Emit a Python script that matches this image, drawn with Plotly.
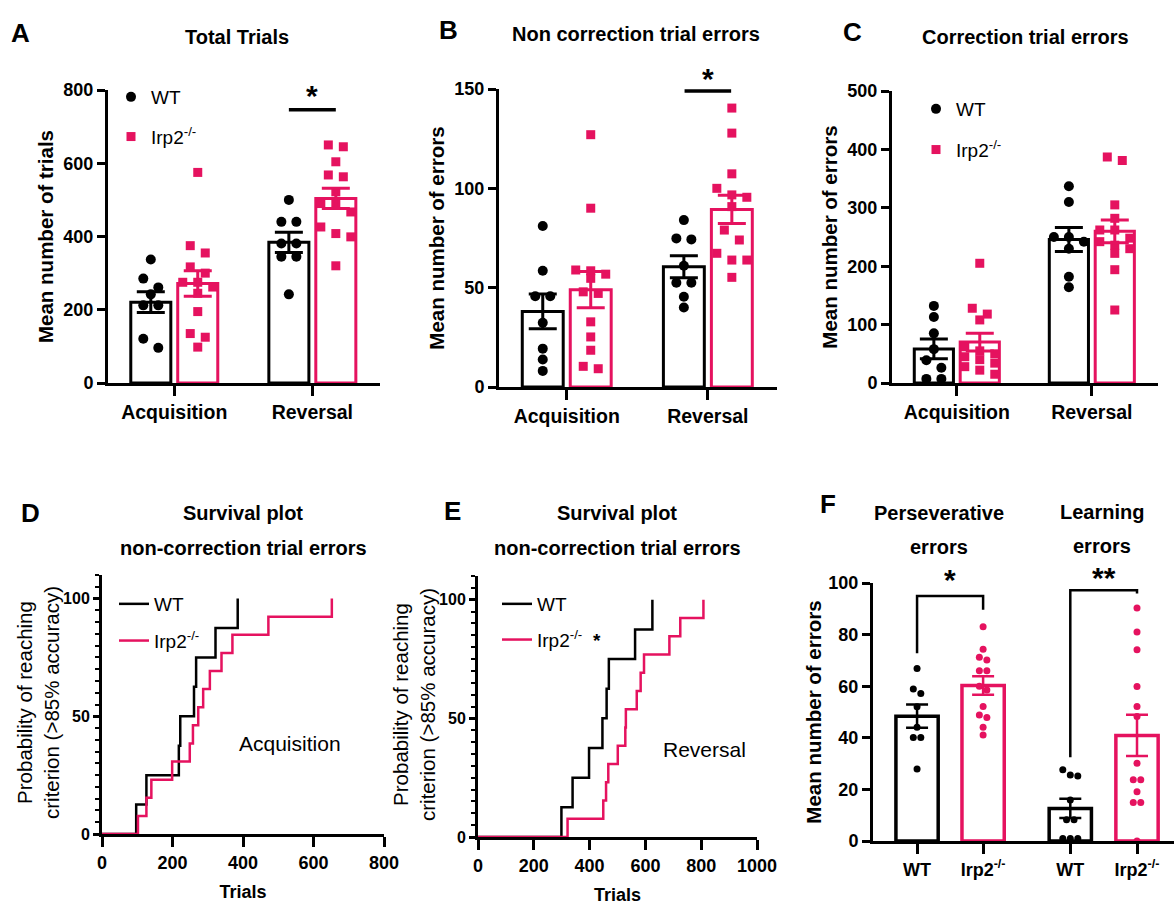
import numpy as np
import plotly.graph_objects as go

# ---------------- data ----------------
groups = ["Acquisition", "Reversal"]
genotypes = ["WT", "Irp2<sup>-/-</sup>"]

# Panel A - total trials
a_wt_acq = [337, 285, 261, 242, 212, 212, 121, 96]
a_ko_acq = [575, 375, 355, 317, 300, 275, 275, 262, 245, 195, 135, 125, 98]
a_wt_rev = [500, 440, 440, 381, 381, 345, 345, 242]
a_ko_rev = [650, 645, 604, 568, 563, 522, 490, 490, 467, 426, 408, 399, 320]

# Panel B - non correction trial errors
b_wt_acq = [81, 58.5, 45.7, 45.7, 32.3, 19.3, 13.8, 8.1]
b_ko_acq = [127, 90, 58.9, 58.5, 56.8, 54.7, 47.9, 47.1, 32.8, 25.2, 18.5, 10.4, 9.2]
b_wt_rev = [84, 74.8, 74.3, 61, 52.5, 52.5, 45.4, 40]
b_ko_rev = [140.4, 127.8, 107.3, 100, 96.7, 95.5, 90.8, 79, 74, 67.3, 63.9, 63.9, 55.2]

# Panel C - correction trial errors
c_wt_acq = [132, 113, 85, 58, 39, 26, 7, 7]
c_ko_acq = [205, 128, 118, 108, 62, 55, 50, 45, 40, 34, 28, 22, 15]
c_wt_rev = [337, 310, 250, 250, 242, 230, 182, 164]
c_ko_rev = [387, 381, 305, 282, 262, 262, 248, 242, 236, 230, 222, 194, 125]

# Panel D / E - trials to criterion (survival)
d_wt = [97, 126, 218, 222, 261, 267, 322, 385]
d_ko = [102, 126, 140, 199, 249, 258, 273, 287, 306, 339, 370, 472, 652]
e_wt = [299, 339, 398, 446, 461, 469, 563, 625]
e_ko = [321, 449, 459, 467, 501, 528, 530, 569, 583, 595, 686, 725, 808]

# Panel F - perseverative / learning errors
f_categories = ["WT", "Irp2<sup>-/-</sup>", "WT", "Irp2<sup>-/-</sup>"]
f_wt_pers = [66.9, 58.9, 57.2, 52, 44.1, 40.1, 40.1, 27.9]
f_ko_pers = [83, 74.3, 71.2, 70.2, 66, 66, 60, 58.5, 52.1, 48.8, 47.9, 44.1, 41.1]
f_wt_learn = [27.6, 25.6, 25.2, 15.9, 8.2, 8.2, 1, 1, 1]
f_ko_learn = [90.3, 81, 74.1, 59.9, 52.1, 48.3, 30.1, 23.7, 23.7, 19.1, 14.9, 14.9, 0]

# ---------------- style ----------------
W, H = 1174, 905
PINK = "#E5125F"
BLACK = "#000000"
SANS = "Liberation Sans, Arial, sans-serif"
TICKFONT = dict(family=SANS, size=18, color="black", weight="bold")
CATFONT = dict(family=SANS, size=19.5, color="black", weight="bold")
TITLEFONT = dict(family=SANS, size=20, color="black", weight="bold")
AXTITLEFONT = dict(family=SANS, size=20.5, color="black", weight="bold")
LEGFONT = dict(family=SANS, size=19, color="black")


def dxp(a, b):
    return [a / W, b / W]


def dyp(top, bottom):
    return [1 - bottom / H, 1 - top / H]


def swarm(vals, ypx, spacing, thresh, maxk):
    v = np.asarray(vals, float)
    order = np.argsort(-v, kind="stable")
    offs = np.zeros(len(v))
    i = 0
    while i < len(order):
        row = [order[i]]
        j = i + 1
        while j < len(order) and len(row) < maxk and (v[order[i]] - v[order[j]]) * ypx < thresh:
            row.append(order[j])
            j += 1
        k = len(row)
        for m, idx in enumerate(row):
            offs[idx] = (m - (k - 1) / 2) * spacing
        i = j
    return offs


def sem(v):
    v = np.asarray(v, float)
    return float(np.std(v, ddof=1) / np.sqrt(len(v)))


fig = go.Figure()

# panel geometry (pixels)
geo = {
    "A": dict(x=(108, 380), y=(90, 383), yr=(0, 800), xr=(-0.48, 1.49)),
    "B": dict(x=(499, 777), y=(89, 387), yr=(0, 150), xr=(-0.48, 1.49)),
    "C": dict(x=(892, 1158), y=(91, 383), yr=(0, 500), xr=(-0.48, 1.49)),
    "D": dict(x=(102, 384), y=(575, 834), yr=(0, 110), xr=(0, 800)),
    "E": dict(x=(478, 757), y=(576, 837), yr=(0, 110), xr=(0, 1000)),
    "F": dict(x=(873, 1174), y=(583, 841), yr=(0, 100), xr=(-0.667, 3.89)),
}
axid = {"A": "", "B": "2", "C": "3", "D": "4", "E": "5", "F": "6"}


def scales(p):
    g = geo[p]
    xpx = (g["x"][1] - g["x"][0]) / (g["xr"][1] - g["xr"][0])
    ypx = (g["y"][1] - g["y"][0]) / (g["yr"][1] - g["yr"][0])
    return xpx, ypx


def bar_panel(p, sets, legend=None):
    n = axid[p]
    xa, ya = "x" + n, "y" + n
    xpx, ypx = scales(p)
    off, width = 0.17, 0.29
    for gi_g, (color, symbol, size, name) in enumerate(
        [(BLACK, "circle", 10, genotypes[0]), (PINK, "square", 9, genotypes[1])]
    ):
        xs = [gi + (-off if gi_g == 0 else off) for gi in range(len(groups))]
        vals = [sets[gi][gi_g] for gi in range(len(groups))]
        means = [float(np.mean(v)) for v in vals]
        errs = [sem(v) for v in vals]
        fig.add_trace(go.Bar(x=xs, y=means, width=width, xaxis=xa, yaxis=ya,
                             marker=dict(color="white", line=dict(color=color, width=3)),
                             showlegend=False, hoverinfo="skip"))
        px_all, py_all = [], []
        for x0, v in zip(xs, vals):
            o = swarm(v, ypx, 15, 10, 3)
            px_all += list(x0 + o / xpx)
            py_all += list(v)
        fig.add_trace(go.Scatter(x=px_all, y=py_all, mode="markers", xaxis=xa, yaxis=ya,
                                 marker=dict(symbol=symbol, size=size, color=color),
                                 name=name, legendgroup=p + name,
                                 showlegend=legend is not None,
                                 legend=legend if legend else "legend"))
        fig.add_trace(go.Scatter(x=xs, y=means, mode="markers", xaxis=xa, yaxis=ya,
                                 marker=dict(size=1, color="rgba(0,0,0,0)"),
                                 error_y=dict(type="data", array=errs, color=color,
                                              thickness=3, width=14),
                                 showlegend=False, hoverinfo="skip"))


bar_panel("A", [(a_wt_acq, a_ko_acq), (a_wt_rev, a_ko_rev)], legend="legend")
bar_panel("B", [(b_wt_acq, b_ko_acq), (b_wt_rev, b_ko_rev)])
bar_panel("C", [(c_wt_acq, c_ko_acq), (c_wt_rev, c_ko_rev)], legend="legend2")


def km(p, times_wt, times_ko, legend):
    n = axid[p]
    for times, color, name in [(times_wt, BLACK, genotypes[0]),
                               (times_ko, PINK, genotypes[1] + ("  <b>*</b>" if p == "E" else ""))]:
        t = np.sort(np.asarray(times, float))
        yv = 100 * np.arange(1, len(t) + 1) / len(t)
        fig.add_trace(go.Scatter(x=np.r_[0, t], y=np.r_[0, yv], mode="lines",
                                 line=dict(color=color, width=2.5, shape="hv"),
                                 xaxis="x" + n, yaxis="y" + n, name=name,
                                 legendgroup=p + name, legend=legend))


km("D", d_wt, d_ko, "legend3")
km("E", e_wt, e_ko, "legend4")

# Panel F
fpos = [0, 1, 2.32, 3.33]
f_sets = [f_wt_pers, f_ko_pers, f_wt_learn, f_ko_learn]
f_colors = [BLACK, PINK, BLACK, PINK]
xpxF, ypxF = scales("F")
f_means = [float(np.mean(v)) for v in f_sets]
f_errs = [sem(v) for v in f_sets]
fig.add_trace(go.Bar(x=fpos, y=f_means, width=0.64, xaxis="x6", yaxis="y6",
                     marker=dict(color="white", line=dict(color=f_colors, width=3.5)),
                     showlegend=False, hoverinfo="skip"))
for x0, v, c in zip(fpos, f_sets, f_colors):
    o = swarm(v, ypxF, 7.5, 6.5, 3)
    fig.add_trace(go.Scatter(x=list(x0 + o / xpxF), y=v, mode="markers", xaxis="x6", yaxis="y6",
                             marker=dict(symbol="circle", size=7, color=c), showlegend=False))
for x0, m, e, c in zip(fpos, f_means, f_errs, f_colors):
    fig.add_trace(go.Scatter(x=[x0], y=[m], mode="markers", xaxis="x6", yaxis="y6",
                             marker=dict(size=1, color="rgba(0,0,0,0)"),
                             error_y=dict(type="data", array=[e], color=c, thickness=2.5, width=11),
                             showlegend=False, hoverinfo="skip"))

# ---------------- axes ----------------
def base_axis(**kw):
    d = dict(showline=True, linewidth=3, linecolor="black", ticks="outside", ticklen=8,
             tickwidth=3, tickcolor="black", showgrid=False, zeroline=False,
             tickfont=TICKFONT, fixedrange=True, automargin=False)
    d.update(kw)
    return d


layout_axes = {}
for p in "ABC":
    n = axid[p]
    g = geo[p]
    title = "Mean number of trials" if p == "A" else "Mean number of errors"
    dtick = {"A": 200, "B": 50, "C": 100}[p]
    layout_axes["xaxis" + n] = base_axis(domain=dxp(*g["x"]), range=list(g["xr"]), anchor="y" + n,
                                         tickvals=[0, 1], ticktext=groups, tickfont=CATFONT, ticklen=10)
    layout_axes["yaxis" + n] = base_axis(domain=dyp(*g["y"]), range=list(g["yr"]), anchor="x" + n,
                                         dtick=dtick, tick0=0,
                                         title=dict(text=title, font=AXTITLEFONT, standoff=5))
for p in "DE":
    n = axid[p]
    g = geo[p]
    layout_axes["xaxis" + n] = base_axis(domain=dxp(*g["x"]), range=list(g["xr"]), anchor="y" + n,
                                         dtick=200, tick0=0, ticklen=10,
                                         title=dict(text="Trials", font=dict(family=SANS, size=18, weight="bold", color="black"), standoff=14))
    layout_axes["yaxis" + n] = base_axis(domain=dyp(*g["y"]), range=list(g["yr"]), anchor="x" + n,
                                         tickvals=[0, 50, 100], ticklen=6, tickfont=dict(family=SANS, size=16, weight="bold", color="black"),
                                         minor=dict(dtick=5, tick0=0, ticklen=4, tickwidth=2, ticks="outside", tickcolor="black"))
g = geo["F"]
layout_axes["xaxis6"] = base_axis(domain=dxp(*g["x"]), range=list(g["xr"]), anchor="y6",
                                  tickvals=fpos, ticktext=f_categories, ticklen=10,
                                  tickfont=dict(family=SANS, size=18, weight="bold", color="black"))
layout_axes["yaxis6"] = base_axis(domain=dyp(*g["y"]), range=list(g["yr"]), anchor="x6",
                                  dtick=20, tick0=0,
                                  title=dict(text="Mean number of errors", font=AXTITLEFONT, standoff=2))

# ---------------- annotations ----------------
ann = []


def txt(x, y, text, font, **kw):
    d = dict(x=x / W, y=1 - y / H, xref="paper", yref="paper", text=text, showarrow=False,
             font=font, xanchor="center", yanchor="middle")
    d.update(kw)
    ann.append(d)


LETTER = dict(family=SANS, size=26, color="black", weight="bold")
for letter, (lx, ly) in {"A": (20, 33), "B": (448, 30), "C": (852, 32), "D": (30, 513), "E": (452, 511), "F": (828, 504)}.items():
    txt(lx, ly, letter, LETTER)

txt(237, 37, "Total Trials", TITLEFONT)
txt(636, 34, "Non correction trial errors", TITLEFONT)
txt(1025, 37, "Correction trial errors", TITLEFONT)
for cx in (243, 617):
    txt(cx, 513, "Survival plot", TITLEFONT)
    txt(cx, 548, "non-correction trial errors", TITLEFONT)
txt(939, 513, "Perseverative", TITLEFONT)
txt(939, 547, "errors", TITLEFONT)
txt(1102, 512, "Learning", TITLEFONT)
txt(1102, 546, "errors", TITLEFONT)

# survival-plot y-axis titles (two lines, rotated)
SURV_YT = dict(family=SANS, size=20.5, color="black")
txt(38, 703, "Probability of reaching<br>criterion (>85% accuracy)", SURV_YT, textangle=-90)
txt(414, 705, "Probability of reaching<br>criterion (>85% accuracy)", SURV_YT, textangle=-90)

BIG = dict(family=SANS, size=21, color="black")
ann.append(dict(x=533, y=38.6, xref="x4", yref="y4", text="Acquisition", showarrow=False, font=BIG))
ann.append(dict(x=813, y=36.7, xref="x5", yref="y5", text="Reversal", showarrow=False, font=BIG))

STAR = dict(family=SANS, size=30, color="black", weight="bold")
ann.append(dict(x=1, y=784, xref="x", yref="y", text="*", showarrow=False, font=STAR, yanchor="middle"))
ann.append(dict(x=1, y=146, xref="x2", yref="y2", text="*", showarrow=False, font=STAR, yanchor="bottom"))
ann.append(dict(x=0.5, y=94, xref="x6", yref="y6", text="*", showarrow=False, font=STAR, yanchor="bottom"))
ann.append(dict(x=(fpos[2] + fpos[3]) / 2, y=95, xref="x6", yref="y6", text="**", showarrow=False, font=STAR, yanchor="bottom"))

# ---------------- shapes ----------------
shapes = [
    dict(type="line", xref="x", yref="y", x0=1 - 0.17, x1=1 + 0.17, y0=746, y1=746, line=dict(color="black", width=3.5)),
    dict(type="line", xref="x2", yref="y2", x0=1 - 0.165, x1=1 + 0.165, y0=149, y1=149, line=dict(color="black", width=3.5)),
    dict(type="path", xref="x6", yref="y6", path=f"M {fpos[0]},72.8 V 95 H {fpos[1]} V 89.6", line=dict(color="black", width=2.5)),
    dict(type="path", xref="x6", yref="y6", path=f"M {fpos[2]},32.5 V 97.2 H {fpos[3]} V 95.9", line=dict(color="black", width=2.5)),
]

leg_common = dict(bgcolor="rgba(0,0,0,0)", font=LEGFONT, xanchor="left", yanchor="top",
                  itemclick=False, itemdoubleclick=False)
fig.update_layout(
    template="none",
    width=W, height=H, margin=dict(l=0, r=0, t=0, b=0, autoexpand=False),
    paper_bgcolor="white", plot_bgcolor="white", barmode="overlay",
    showlegend=True,
    legend=dict(x=111 / W, y=1 - 78 / H, tracegroupgap=12, **leg_common),
    legend2=dict(x=916 / W, y=1 - 90 / H, tracegroupgap=13, **leg_common),
    legend3=dict(x=114 / W, y=1 - 585 / H, tracegroupgap=9, **leg_common),
    legend4=dict(x=497 / W, y=1 - 585 / H, tracegroupgap=8, **leg_common),
    annotations=ann, shapes=shapes,
    **layout_axes,
)

fig.write_html("out.html", config={"displayModeBar": False},
               post_script="document.body.style.margin='0';document.body.style.overflow='hidden';")
